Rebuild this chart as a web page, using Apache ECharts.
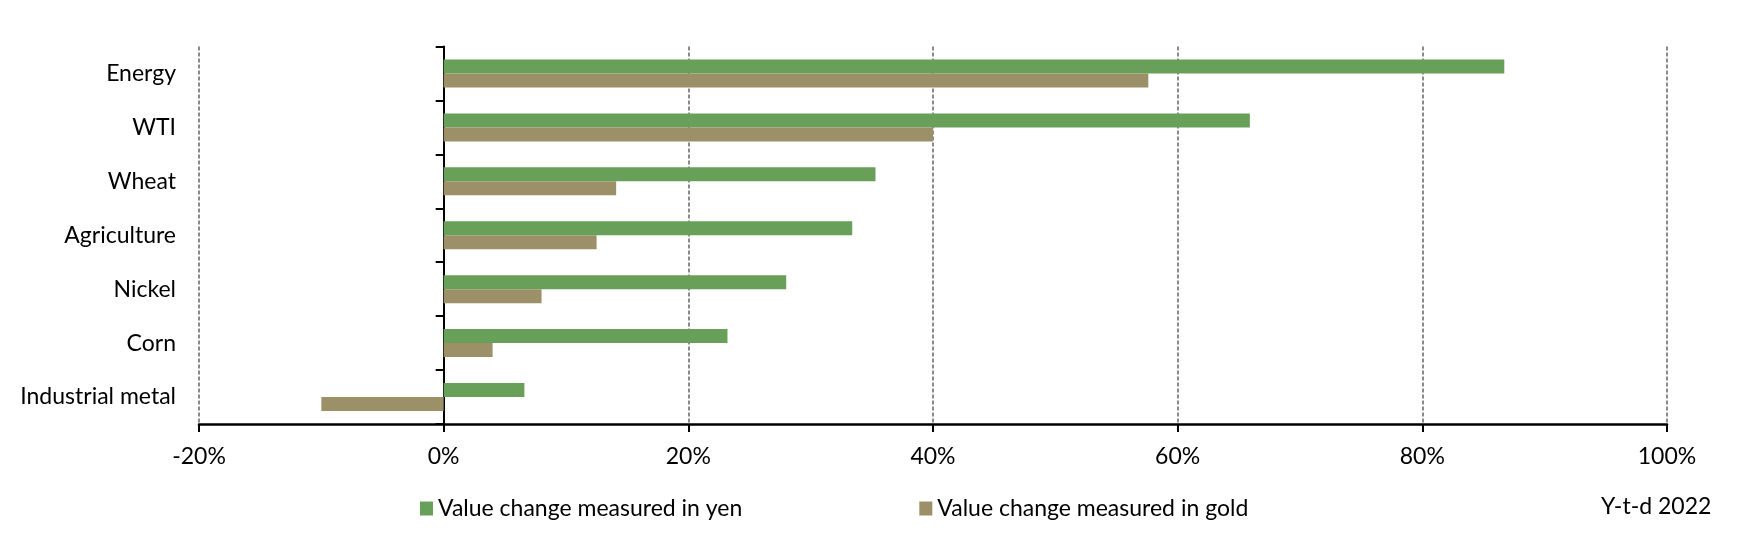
<!DOCTYPE html>
<html>
<head>
<meta charset="utf-8">
<script src="https://cdn.jsdelivr.net/npm/echarts@6/dist/echarts.min.js"></script>
<style>
  html, body { margin: 0; padding: 0; background: #fff; }
  #chart { width: 1754px; height: 547px; }
</style>
</head>
<body>
<div id="chart"></div>
<script>
const categories = ['Energy', 'WTI', 'Wheat', 'Agriculture', 'Nickel', 'Corn', 'Industrial metal'];
const yenValues = [86.7, 65.9, 35.3, 33.4, 28.0, 23.2, 6.6];
const goldValues = [57.6, 40.0, 14.1, 12.5, 8.0, 4.0, -10.0];
const seriesNames = ['Value change measured in yen', 'Value change measured in gold'];
const xTicks = { min: -20, max: 100, interval: 20 };
const noteText = 'Y-t-d 2022';

const FONT = 'Lato';
const FS = 23;
const chart = echarts.init(document.getElementById('chart'));
chart.setOption({
  backgroundColor: '#ffffff',
  animation: false,
  textStyle: { fontFamily: FONT, color: '#000' },
  grid: { left: 199, right: 87, top: 46.5, bottom: 123, containLabel: false, outerBoundsMode: 'none' },
  legend: {
    data: seriesNames,
    left: 415,
    top: 492,
    itemWidth: 13,
    itemHeight: 14,
    itemGap: 177,
    icon: 'rect',
    textStyle: { fontFamily: FONT, fontSize: FS, color: '#000' }
  },
  xAxis: {
    type: 'value',
    min: xTicks.min,
    max: xTicks.max,
    interval: xTicks.interval,
    axisLine: { show: true, lineStyle: { color: '#000', width: 2.5 } },
    axisTick: { show: true, length: 8, lineStyle: { color: '#000', width: 2 } },
    axisLabel: { formatter: '{value}%', fontFamily: FONT, fontSize: FS, color: '#000', margin: 21 },
    splitLine: { show: true, lineStyle: { color: '#666666', width: 1.5, type: [4, 2] } }
  },
  yAxis: {
    type: 'category',
    data: categories,
    inverse: true,
    axisLine: { show: true, onZero: true, lineStyle: { color: '#000', width: 2 } },
    axisTick: { show: true, length: 8, lineStyle: { color: '#000', width: 2 } },
    axisLabel: { fontFamily: FONT, fontSize: FS, color: '#000', margin: 23 },
    splitLine: { show: false }
  },
  series: [
    {
      name: seriesNames[0],
      type: 'bar',
      data: yenValues,
      barWidth: 14,
      barGap: '0%',
      itemStyle: { color: '#68a05a' }
    },
    {
      name: seriesNames[1],
      type: 'bar',
      data: goldValues,
      barWidth: 14,
      barGap: '0%',
      itemStyle: { color: '#9b9068' }
    }
  ],
  graphic: [
    {
      type: 'text',
      left: 1601,
      top: 495,
      style: { text: noteText, fontFamily: FONT, fontSize: FS, fill: '#000' }
    }
  ]
});
</script>
</body>
</html>
